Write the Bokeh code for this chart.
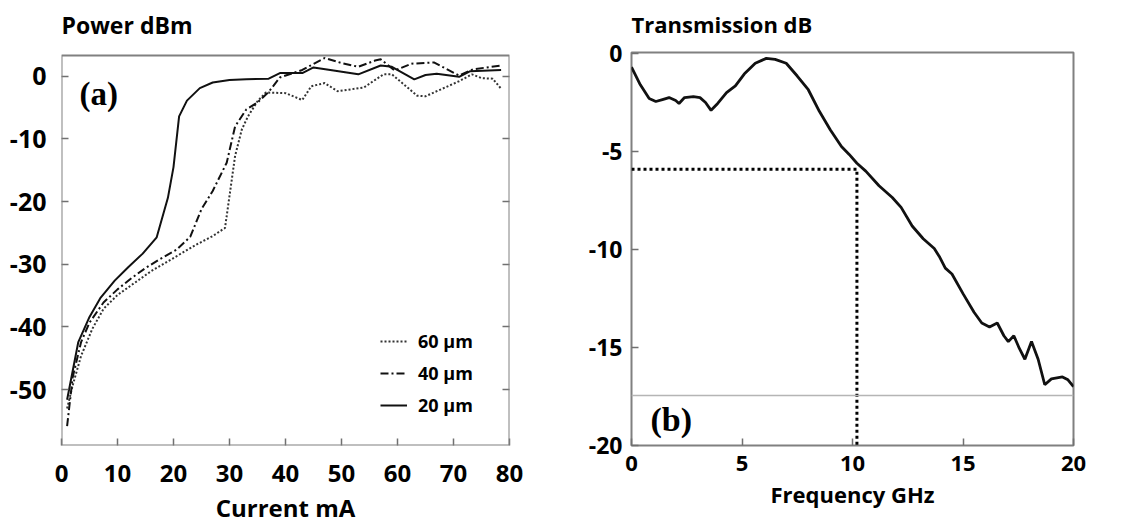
from bokeh.plotting import figure
from bokeh.models import (Range1d, LinearAxis, Label, Legend, LegendItem, Span, FixedTicker,
                          BoxAnnotation)
from bokeh.layouts import row
from bokeh.embed import file_html
from bokeh.resources import INLINE

# ---------------- Panel (a) data ----------------
current_20 = [1, 3, 5, 7, 9.5, 12, 14.5, 17, 19, 20, 21, 22.4, 24.7, 27, 30, 33, 37, 39, 43, 45, 48,
              53, 57, 59, 63, 65, 67, 71, 73, 78.5]
power_20 = [-51.6, -42.4, -38.4, -35.3, -32.6, -30.4, -28.3, -25.7, -19.4, -14.5, -6.4, -3.9, -1.9, -1.0,
            -0.6, -0.5, -0.4, 0.5, 0.5, 1.4, 1.0, 0.3, 1.7, 1.5, -0.5, 0.2, 0.4, -0.1, 0.8, 1.0]

current_40 = [1, 2, 3.5, 5, 7.5, 10, 12.5, 15, 17.5, 20.5, 23, 25, 27, 29.5, 31, 33, 35, 37, 39, 43,
              47, 50, 53, 56, 57, 59.5, 62.5, 66.5, 71, 73.5, 78.5]
power_40 = [-55.8, -48.0, -42.4, -39.3, -36.1, -34.0, -32.2, -30.6, -29.2, -27.7, -25.6, -21.2, -18.3,
            -13.8, -8.0, -5.3, -4.2, -2.5, -0.2, 1.0, 2.9, 2.1, 1.5, 2.5, 2.7, 0.9, 2.0, 2.2, 0.1, 1.1, 1.7]

current_60 = [1, 2, 3.5, 5.5, 7.5, 10, 13, 16, 20, 24, 27, 29.2, 30, 31, 32.2, 33.3, 35, 36.5, 40, 43,
              44.6, 47, 49.3, 54, 57.5, 59, 63.5, 65, 71, 73.3, 75, 77, 78.5]
power_60 = [-53.0, -49.3, -44.6, -40.3, -37.1, -34.9, -33.0, -31.1, -29.0, -26.9, -25.5, -24.2, -19.1,
            -12.7, -8.5, -6.4, -4.0, -2.6, -2.7, -3.8, -1.6, -1.1, -2.4, -1.8, 0.3, 0.3, -3.1, -3.2,
            -0.8, 0.3, -0.3, -0.4, -2.0]

series_names = ["60 µm", "40 µm", "20 µm"]
xa_ticks = [0, 10, 20, 30, 40, 50, 60, 70, 80]
ya_ticks = [-50, -40, -30, -20, -10, 0]
ya_labels = ["-50", "-40", "-30", "-20", "-10", "0"]

# ---------------- Panel (b) data ----------------
freq = [0, 0.4, 0.8, 1.1, 1.4, 1.7, 2.0, 2.15, 2.4, 2.8, 3.1, 3.35, 3.6, 3.9, 4.3, 4.7, 5.1, 5.6,
        6.1, 6.5, 7.0, 7.5, 8.0, 8.5, 9.0, 9.5, 9.85, 10.2, 10.6, 11.2, 11.8, 12.2, 12.7, 13.2, 13.7,
        13.95, 14.2, 14.5, 15.0, 15.5, 15.85, 16.2, 16.55, 16.85, 17.05, 17.3, 17.55, 17.8, 18.1,
        18.4, 18.7, 19.0, 19.5, 19.75, 20.0]
trans = [-0.7, -1.6, -2.3, -2.45, -2.35, -2.25, -2.4, -2.55, -2.25, -2.2, -2.25, -2.5, -2.9, -2.55,
         -2.0, -1.65, -1.05, -0.5, -0.25, -0.3, -0.5, -1.15, -1.85, -2.95, -3.9, -4.75, -5.15, -5.6,
         -6.0, -6.75, -7.35, -7.85, -8.8, -9.45, -9.95, -10.4, -10.95, -11.25, -12.25, -13.2, -13.75,
         -13.95, -13.75, -14.4, -14.7, -14.4, -15.05, -15.6, -14.7, -15.6, -16.9, -16.6, -16.5,
         -16.65, -17.0]
cutoff_freq = 10.2
cutoff_db = -5.9
xb_ticks = [0, 5, 10, 15, 20]
yb_ticks = [-20, -15, -10, -5, 0]
yb_labels = ["-20", "-15", "-10", "-5", "0"]

FONT = "Open Sans"
BORDER = "#808080"


def style_axis(ax, size, standoff):
    ax.axis_line_color = None
    ax.major_tick_in = 7
    ax.major_tick_out = 0
    ax.major_tick_line_color = "#707070"
    ax.major_tick_line_width = 1.5
    ax.minor_tick_line_color = None
    ax.major_label_text_font = FONT
    ax.major_label_text_font_style = "bold"
    ax.major_label_text_font_size = size
    ax.major_label_text_color = "black"
    ax.major_label_standoff = standoff


def spacer_axis(ticks, size):
    # invisible axis above the frame: only reserves vertical room under the title
    ax = LinearAxis(ticker=FixedTicker(ticks=ticks),
                    major_label_overrides={t: "" for t in ticks})
    ax.axis_line_color = None
    ax.major_tick_line_color = None
    ax.minor_tick_line_color = None
    ax.major_tick_in = 0
    ax.major_tick_out = size
    ax.major_label_standoff = 0
    ax.major_label_text_font_size = "1px"
    return ax


def style_title(p, text, size):
    p.title.text = text
    p.title.align = "left"
    p.title.vertical_align = "bottom"
    p.title.text_font = FONT
    p.title.text_font_style = "bold"
    p.title.text_font_size = size
    p.title.text_color = "black"
    p.title.standoff = 0


def style_axis_label(ax, text, size, standoff):
    ax.axis_label = text
    ax.axis_label_text_font = FONT
    ax.axis_label_text_font_style = "bold"
    ax.axis_label_text_font_size = size
    ax.axis_label_text_color = "black"
    ax.axis_label_standoff = standoff


def tag(p, t, x, y, xo, yo, size):
    p.add_layout(Label(x=x, y=y, x_offset=xo, y_offset=yo, text=t, text_font="Liberation Serif",
                       text_font_size=size, text_font_style="bold", text_align="left",
                       text_baseline="alphabetic", text_color="black"))


# ---------------- Figure (a) ----------------
ya_lo, ya_hi = -58.9, 3.3
ya_view_top = 3.78      # small blank strip above the panel box (frames of both panels share one top)
p1 = figure(width=568, height=526, output_backend="svg", toolbar_location=None,
            x_range=Range1d(0, 80), y_range=Range1d(ya_lo, ya_view_top),
            min_border_left=61, min_border_right=59, min_border_top=52, min_border_bottom=81)
p1.xgrid.visible = False
p1.ygrid.visible = False
p1.outline_line_color = None
p1.add_layout(BoxAnnotation(left=0, right=80, bottom=ya_lo, top=ya_hi, fill_alpha=0,
                            line_color=BORDER, line_alpha=1.0, line_width=2))
p1.xaxis.ticker = FixedTicker(ticks=xa_ticks)
p1.yaxis.ticker = FixedTicker(ticks=ya_ticks)
p1.yaxis.major_label_overrides = dict(zip(ya_ticks, ya_labels))
style_axis(p1.xaxis[0], "24px", 19)
style_axis(p1.yaxis[0], "25px", 15)
style_axis_label(p1.xaxis[0], "Current mA", "24px", 6)
p1.add_layout(spacer_axis(xa_ticks, 12), "above")
style_title(p1, "Power dBm", "23px")

ra = LinearAxis(ticker=FixedTicker(ticks=ya_ticks),
                major_label_overrides={t: "" for t in ya_ticks})
style_axis(ra, "10px", 0)
p1.add_layout(ra, "right")

r60 = p1.line(current_60, power_60, line_color="#333333", line_width=2, line_dash="2 2")
r40 = p1.line(current_40, power_40, line_color="#111111", line_width=2, line_dash="8 3 2 3")
r20 = p1.line(current_20, power_20, line_color="#111111", line_width=2)

leg = Legend(items=[LegendItem(label=series_names[0], renderers=[r60]),
                    LegendItem(label=series_names[1], renderers=[r40]),
                    LegendItem(label=series_names[2], renderers=[r20])],
             location=(319, 28), orientation="vertical",
             background_fill_alpha=0, border_line_color=None,
             padding=0, margin=0, spacing=8, glyph_width=27, glyph_height=24,
             label_height=24, label_standoff=11, label_text_color="black",
             label_text_font=FONT, label_text_font_style="bold", label_text_font_size="18px")
p1.add_layout(leg, "center")

tag(p1, "(a)", 0, ya_hi, 18, -38, "33px")

# ---------------- Figure (b) ----------------
yb_lo, yb_hi = -20.0, 0.05
p2 = figure(width=573, height=526, output_backend="svg", toolbar_location=None,
            x_range=Range1d(0, 20), y_range=Range1d(yb_lo, yb_hi),
            min_border_left=63, min_border_right=68, min_border_top=52, min_border_bottom=81)
p2.xgrid.visible = False
p2.ygrid.visible = False
p2.outline_line_color = BORDER
p2.outline_line_width = 2
p2.xaxis.ticker = FixedTicker(ticks=xb_ticks)
p2.yaxis.ticker = FixedTicker(ticks=yb_ticks)
p2.yaxis.major_label_overrides = dict(zip(yb_ticks, yb_labels))
style_axis(p2.xaxis[0], "22px", 10)
style_axis(p2.yaxis[0], "23px", 9)
style_axis_label(p2.xaxis[0], "Frequency GHz", "22px", 5)
p2.add_layout(spacer_axis(xb_ticks, 14), "above")
style_title(p2, "Transmission dB", "22px")

p2.add_layout(Span(location=-17.45, dimension="width", line_color="#b5b5b5", line_width=1.5))
p2.line([0, cutoff_freq, cutoff_freq], [cutoff_db, cutoff_db, yb_lo],
        line_color="black", line_width=3, line_dash="3 3")
p2.line(freq, trans, line_color="#111111", line_width=2.8)

tag(p2, "(b)", 0, yb_lo, 19, 26, "34px")

layout = row(p1, p2)
open("out.html", "w").write(file_html(layout, INLINE))
